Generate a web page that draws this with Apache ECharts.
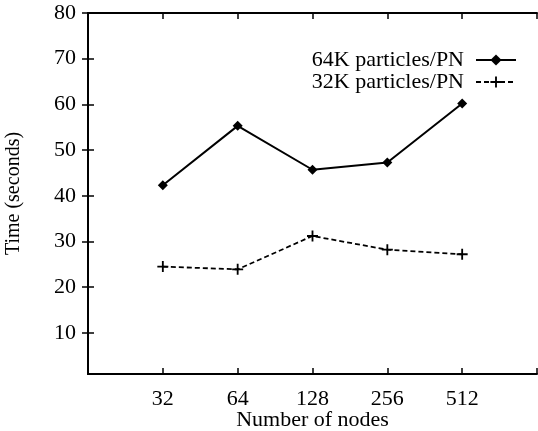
<!DOCTYPE html>
<html>
<head>
<meta charset="utf-8">
<script src="https://cdn.jsdelivr.net/npm/echarts@6/dist/echarts.min.js"></script>
<style>
  html, body { margin: 0; padding: 0; background: #fff; }
  #chart { width: 538px; height: 431px; }
</style>
</head>
<body>
<div id="chart"></div>
<script>
// 横坐标：节点数
const categories = ['32', '64', '128', '256', '512'];
// 两条曲线的数据（秒）
const seriesNames = ['64K particles/PN', '32K particles/PN'];
const time64K = [42.3, 55.3, 45.7, 47.3, 60.2];
const time32K = [24.5, 23.9, 31.2, 28.2, 27.2];
// 纵坐标刻度
const yTicks = [10, 20, 30, 40, 50, 60, 70, 80];

const font = 'Liberation Serif, Times New Roman, serif';
const plus = 'path://M5,0H7V5H12V7H7V12H5V7H0V5H5Z';

// 把数组转成 [位置, 值]，类别放在 1..5，两端留空
const toPoints = arr => arr.map((v, i) => [i + 1, v]);

let chart = echarts.init(document.getElementById('chart'));

const frameLine = { show: true, lineStyle: { color: '#000', width: 2 } };
const tickIn = { show: true, inside: true, length: 6, lineStyle: { color: '#000', width: 1.5 } };

let option = {
  backgroundColor: '#fff',
  animation: false,
  grid: { left: 88, top: 13, right: 1, bottom: 57, containLabel: false, outerBoundsMode: 'none' },
  legend: {
    orient: 'vertical',
    right: 21,
    top: 49,
    padding: 0,
    align: 'right',
    itemWidth: 40,
    itemHeight: 14,
    itemGap: 0,
    textStyle: { fontFamily: font, fontSize: 22, color: '#000', padding: [0, 7, 0, 0] },
    data: seriesNames
  },
  xAxis: [
    {
      type: 'value',
      min: 0, max: 6, interval: 1,
      name: 'Number of nodes',
      nameLocation: 'middle',
      nameGap: 35,
      nameMoveOverlap: false,
      nameTextStyle: { fontFamily: font, fontSize: 22, color: '#000' },
      axisLine: frameLine,
      axisTick: tickIn,
      splitLine: { show: false },
      axisLabel: {
        margin: 14,
        fontFamily: font, fontSize: 22, color: '#000',
        formatter: v => categories[v - 1] || ''
      }
    },
    {
      type: 'value', position: 'top',
      min: 0, max: 6, interval: 1,
      axisLine: frameLine,
      axisTick: tickIn,
      splitLine: { show: false },
      axisLabel: { show: false }
    }
  ],
  yAxis: [
    {
      type: 'value',
      min: 1, max: 80,
      name: 'Time (seconds)',
      nameLocation: 'middle',
      nameGap: 64,
      nameMoveOverlap: false,
      nameTextStyle: { fontFamily: font, fontSize: 20, color: '#000' },
      axisLine: frameLine,
      axisTick: Object.assign({ customValues: yTicks }, tickIn),
      splitLine: { show: false },
      axisLabel: {
        customValues: yTicks,
        margin: 12,
        fontFamily: font, fontSize: 22, color: '#000'
      }
    },
    {
      type: 'value', position: 'right',
      min: 1, max: 80,
      axisLine: frameLine,
      axisTick: Object.assign({ customValues: yTicks }, tickIn),
      splitLine: { show: false },
      axisLabel: { show: false }
    }
  ],
  series: [
    {
      name: seriesNames[0],
      type: 'line',
      data: toPoints(time64K),
      symbol: 'diamond',
      symbolSize: 10,
      itemStyle: { color: '#000' },
      lineStyle: { color: '#000', width: 2 }
    },
    {
      name: seriesNames[1],
      type: 'line',
      data: toPoints(time32K),
      symbol: plus,
      symbolSize: 11,
      itemStyle: { color: '#000' },
      lineStyle: { color: '#000', width: 1.8, type: [5, 3] }
    }
  ]
};

chart.setOption(option);
</script>
</body>
</html>
